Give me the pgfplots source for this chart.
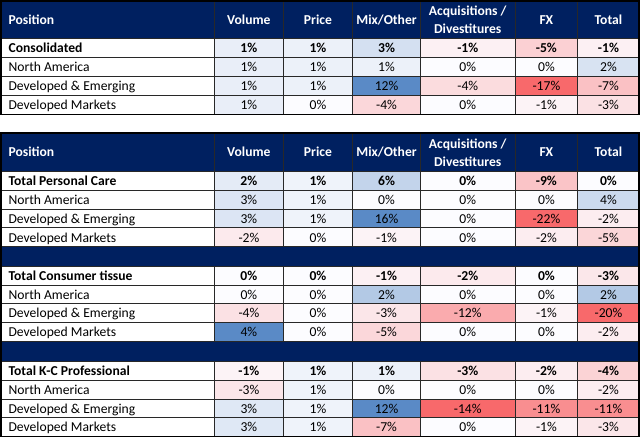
\documentclass[border=0pt]{standalone}
\usepackage{pgfplots}
\pgfplotsset{compat=1.18}
\usepackage{fontspec}
\setmainfont{Carlito}
\definecolor{navy}{RGB}{0,32,96}
\definecolor{gridc}{RGB}{40,40,40}
\newcommand\datarow[9]{%
 \node[anchor=base west,font=#2] at (axis cs:6,#1-4.6) {#3};
 \node[anchor=base,font=#2] at (axis cs:249,#1-4.6) {#4};
 \node[anchor=base,font=#2] at (axis cs:317.5,#1-4.6) {#5};
 \node[anchor=base,font=#2] at (axis cs:385.5,#1-4.6) {#6};
 \node[anchor=base,font=#2] at (axis cs:466,#1-4.6) {#7};
 \node[anchor=base,font=#2] at (axis cs:544,#1-4.6) {#8};
 \node[anchor=base,font=#2] at (axis cs:605.5,#1-4.6) {#9};
}
\newcommand\headrow[2]{%
 \node[anchor=base west,font=\bfseries,text=white] at (axis cs:6,#2) {Position};
 \node[anchor=base,font=\bfseries,text=white] at (axis cs:249,#2) {Volume};
 \node[anchor=base,font=\bfseries,text=white] at (axis cs:317.5,#2) {Price};
 \node[anchor=base,font=\bfseries,text=white] at (axis cs:385.5,#2) {Mix/Other};
 \node[anchor=base,font=\bfseries,text=white] at (axis cs:466,#1-4) {Acquisitions /};
 \node[anchor=base,font=\bfseries,text=white] at (axis cs:466,#1+14) {Divestitures};
 \node[anchor=base,font=\bfseries,text=white] at (axis cs:544,#2) {FX};
 \node[anchor=base,font=\bfseries,text=white] at (axis cs:605.5,#2) {Total};
}
\begin{document}
\fontsize{13.5}{16}\selectfont
\begin{tikzpicture}
\begin{axis}[
  width=640pt, height=440pt, scale only axis,
  xmin=0, xmax=640, ymin=0, ymax=440, y dir=reverse,
  axis lines=none, clip=false,
  colormap={rwb}{rgb255=(248,105,107) rgb255=(252,252,255) rgb255=(90,138,198)},
  point meta min=-1, point meta max=1,
  every node/.append style={inner sep=0pt, font=\fontsize{13.5}{16}\selectfont},
]
% ---- Table 1 cell colours (meta: -1 red ... 0 white ... 1 blue)
\addplot[surf, shader=flat corner, mesh/cols=7, point meta=explicit] table[meta=m] {
x y m
215 41.5 0.12
283 41.5 0.10
352 41.5 0.25
419 41.5 -0.08
513 41.5 -0.30
575 41.5 -0.08
636 41.5 0
215 60.3 0.12
283 60.3 0.10
352 60.3 0.10
419 60.3 0
513 60.3 0
575 60.3 0.22
636 60.3 0
215 79.1 0.12
283 79.1 0.10
352 79.1 1
419 79.1 -0.22
513 79.1 -1
575 79.1 -0.40
636 79.1 0
215 97.9 0.12
283 97.9 0
352 97.9 -0.25
419 97.9 0
513 97.9 -0.06
575 97.9 -0.18
636 97.9 0
215 116.7 0
283 116.7 0
352 116.7 0
419 116.7 0
513 116.7 0
575 116.7 0
636 116.7 0
};
% ---- Table 2 cell colours
\addplot[surf, shader=flat corner, mesh/cols=7, point meta=explicit] table[meta=m] {
x y m
215 173.3 0.15
283 173.3 0.08
352 173.3 0.35
419 173.3 0
513 173.3 -0.38
575 173.3 0
636 173.3 0
215 192 0.2
283 192 0.08
352 192 0
419 192 0
513 192 0
575 192 0.3
636 192 0
215 210.6 0.2
283 210.6 0.08
352 210.6 1
419 210.6 0
513 210.6 -1
575 210.6 -0.10
636 210.6 0
215 229.2 -0.12
283 229.2 0
352 229.2 -0.06
419 229.2 0
513 229.2 -0.10
575 229.2 -0.26
636 229.2 0
215 247.8 0
283 247.8 0
352 247.8 0
419 247.8 0
513 247.8 0
575 247.8 0
636 247.8 0
215 267.3 0
283 267.3 0
352 267.3 -0.08
419 267.3 -0.12
513 267.3 0
575 267.3 -0.14
636 267.3 0
215 285.9 0
283 285.9 0
352 285.9 0.45
419 285.9 0
513 285.9 0
575 285.9 0.45
636 285.9 0
215 304.5 -0.18
283 304.5 0
352 304.5 -0.15
419 304.5 -0.55
513 304.5 -0.06
575 304.5 -1
636 304.5 0
215 323.1 1
283 323.1 0
352 323.1 -0.25
419 323.1 0
513 323.1 0
575 323.1 -0.10
636 323.1 0
215 341.7 0
283 341.7 0
352 341.7 0
419 341.7 0
513 341.7 0
575 341.7 0
636 341.7 0
215 361.7 -0.06
283 361.7 0.08
352 361.7 0.10
419 361.7 -0.18
513 361.7 -0.10
575 361.7 -0.28
636 361.7 0
215 380.3 -0.15
283 380.3 0.08
352 380.3 0
419 380.3 0
513 380.3 0
575 380.3 -0.10
636 380.3 0
215 398.9 0.18
283 398.9 0.08
352 398.9 1
419 398.9 -1
513 398.9 -0.75
575 398.9 -0.75
636 398.9 0
215 417.5 0.18
283 417.5 0.08
352 417.5 -0.40
419 417.5 0
513 417.5 -0.06
575 417.5 -0.15
636 417.5 0
215 436.1 0
283 436.1 0
352 436.1 0
419 436.1 0
513 436.1 0
575 436.1 0
636 436.1 0
};
% header and band fills
\fill[navy] (axis cs:3,4) rectangle (axis cs:636,41.5);
\fill[navy] (axis cs:3,135) rectangle (axis cs:636,173.3);
\fill[navy] (axis cs:3,247.8) rectangle (axis cs:636,267.3);
\fill[navy] (axis cs:3,341.7) rectangle (axis cs:636,361.7);
% grid lines
\pgfplotsinvokeforeach{215,283,352,419,513,575}{
  \draw[gridc, line width=0.9pt] (axis cs:#1,4) -- (axis cs:#1,116.7);
  \draw[gridc, line width=0.9pt] (axis cs:#1,135) -- (axis cs:#1,247.8);
  \draw[gridc, line width=0.9pt] (axis cs:#1,267.3) -- (axis cs:#1,341.7);
  \draw[gridc, line width=0.9pt] (axis cs:#1,361.7) -- (axis cs:#1,436.1);
}
\pgfplotsinvokeforeach{41.5,60.3,79.1,97.9,173.3,192,210.6,229.2,247.8,267.3,285.9,304.5,323.1,341.7,361.7,380.3,398.9,417.5}{
  \draw[gridc, line width=0.9pt] (axis cs:3,#1) -- (axis cs:636,#1);
}
\draw[black, line width=1.6pt] (axis cs:3,4) rectangle (axis cs:636,116.7);
\draw[black, line width=1.6pt] (axis cs:3,135) rectangle (axis cs:636,436.1);
% header text
\headrow{22.75}{27.5}
\headrow{154.1}{158.8}
% table 1 rows
\datarow{60.3}{\bfseries}{Consolidated}{1\%}{1\%}{3\%}{-1\%}{-5\%}{-1\%}
\datarow{79.1}{}{North America}{1\%}{1\%}{1\%}{0\%}{0\%}{2\%}
\datarow{97.9}{}{Developed \& Emerging}{1\%}{1\%}{12\%}{-4\%}{-17\%}{-7\%}
\datarow{116.7}{}{Developed Markets}{1\%}{0\%}{-4\%}{0\%}{-1\%}{-3\%}
% table 2 rows
\datarow{192}{\bfseries}{Total Personal Care}{2\%}{1\%}{6\%}{0\%}{-9\%}{0\%}
\datarow{210.6}{}{North America}{3\%}{1\%}{0\%}{0\%}{0\%}{4\%}
\datarow{229.2}{}{Developed \& Emerging}{3\%}{1\%}{16\%}{0\%}{-22\%}{-2\%}
\datarow{247.8}{}{Developed Markets}{-2\%}{0\%}{-1\%}{0\%}{-2\%}{-5\%}
\datarow{285.9}{\bfseries}{Total Consumer tissue}{0\%}{0\%}{-1\%}{-2\%}{0\%}{-3\%}
\datarow{304.5}{}{North America}{0\%}{0\%}{2\%}{0\%}{0\%}{2\%}
\datarow{323.1}{}{Developed \& Emerging}{-4\%}{0\%}{-3\%}{-12\%}{-1\%}{-20\%}
\datarow{341.7}{}{Developed Markets}{4\%}{0\%}{-5\%}{0\%}{0\%}{-2\%}
\datarow{380.3}{\bfseries}{Total K-C Professional}{-1\%}{1\%}{1\%}{-3\%}{-2\%}{-4\%}
\datarow{398.9}{}{North America}{-3\%}{1\%}{0\%}{0\%}{0\%}{-2\%}
\datarow{417.5}{}{Developed \& Emerging}{3\%}{1\%}{12\%}{-14\%}{-11\%}{-11\%}
\datarow{436.1}{}{Developed Markets}{3\%}{1\%}{-7\%}{0\%}{-1\%}{-3\%}
\end{axis}
\end{tikzpicture}
\end{document}
